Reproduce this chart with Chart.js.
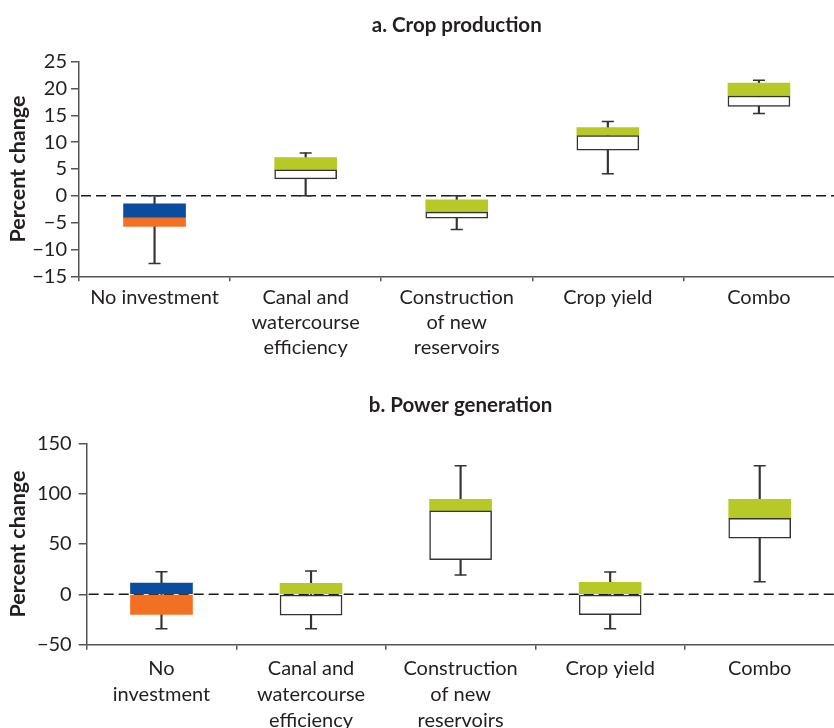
<!DOCTYPE html>
<html>
<head>
<meta charset="utf-8">
<script src="https://cdn.jsdelivr.net/npm/chart.js@4.4.1/dist/chart.umd.min.js"></script>
<style>
  html, body { margin: 0; padding: 0; background: #fff; overflow: hidden; width: 834px; height: 728px; }
  .wrap { position: absolute; left: 0; width: 842px; }
  #w1 { top: 0; height: 372px; }
  #w2 { top: 372px; height: 356px; }
</style>
</head>
<body>
<div class="wrap" id="w1"><canvas id="c1"></canvas></div>
<div class="wrap" id="w2"><canvas id="c2"></canvas></div>
<script>
// ---------- data ----------
const cropCategories = ["No investment", ["Canal and", "watercourse", "efficiency"], ["Construction", "of new", "reservoirs"], "Crop yield", "Combo"];
const powerCategories = [["No", "investment"], ["Canal and", "watercourse", "efficiency"], ["Construction", "of new", "reservoirs"], "Crop yield", "Combo"];

const cropWhiskerLow  = [-12.6, 0, -6.3, 4.1, 15.35];
const cropWhiskerHigh = [0, 8.0, 0, 13.85, 21.55];
const cropUpperTop    = [-1.5, 7.15, -0.75, 12.7, 21.0];
const cropMid         = [-4.1, 4.85, -3.05, 11.25, 18.6];
const cropLowerBottom = [-5.7, 3.17, -4.17, 8.5, 16.65];

const powerWhiskerLow  = [-34.2, -34.2, 19.2, -34.2, 12.5];
const powerWhiskerHigh = [22.4, 23.1, 127.7, 22.1, 127.7];
const powerUpperTop    = [11.2, 10.9, 94.3, 11.9, 94.3];
const powerMid         = [0, 0, 83, 0, 75.5];
const powerLowerBottom = [-19.9, -20.6, 34.4, -20.2, 55.9];

const cropTicks = { min: -15, max: 25, step: 5 };
const powerTicks = { min: -50, max: 150, step: 50 };

// ---------- styles ----------
const FONT = "Lato, 'Liberation Sans', 'Open Sans', sans-serif";
const TEXT = '#231f20';
const AXIS = '#555555';
const INK = '#333333';
const BLUE = '#0a4c9e';
const ORANGE = '#f37022';
const GREEN = '#b7c927';

const zeroLine = {
  id: 'zeroLine',
  beforeDatasetsDraw(chart) {
    const y = chart.scales.y.getPixelForValue(0);
    const ctx = chart.ctx;
    ctx.save();
    ctx.strokeStyle = '#1a1a1a';
    ctx.lineWidth = 1.5;
    ctx.setLineDash([10, 5]);
    ctx.beginPath();
    ctx.moveTo(chart.chartArea.left + 2, y);
    ctx.lineTo(chart.chartArea.right, y);
    ctx.stroke();
    ctx.restore();
  }
};

const pair = (a, b) => a.map((v, i) => [v, b[i]]);

function makeChart(canvasId, cfg) {
  const datasets = [
    { type: 'line', data: cfg.whiskerHigh, showLine: false, pointStyle: 'line', pointRadius: 6, pointHoverRadius: 6,
      borderColor: INK, borderWidth: 1.5, order: 0 },
    { type: 'line', data: cfg.whiskerLow, showLine: false, pointStyle: 'line', pointRadius: 6, pointHoverRadius: 6,
      borderColor: INK, borderWidth: 1.5, order: 0 },
    { type: 'bar', data: pair(cfg.lowerBottom, cfg.mid), grouped: false, barThickness: 62,
      backgroundColor: (c) => c.dataIndex === 0 ? ORANGE : '#ffffff',
      borderColor: INK, borderWidth: (c) => c.dataIndex === 0 ? 0 : 1.5, borderSkipped: false, order: 1 },
    { type: 'bar', data: pair(cfg.mid, cfg.upperTop), grouped: false, barThickness: 62,
      backgroundColor: (c) => c.dataIndex === 0 ? BLUE : GREEN, borderWidth: 0, order: 2 },
    { type: 'bar', data: pair(cfg.whiskerLow, cfg.whiskerHigh), grouped: false, barThickness: 1.5,
      backgroundColor: INK, borderWidth: 0, order: 3 }
  ];
  return new Chart(document.getElementById(canvasId), {
    type: 'bar',
    data: { labels: cfg.labels, datasets },
    plugins: [zeroLine],
    options: {
      responsive: true,
      maintainAspectRatio: false,
      devicePixelRatio: 1,
      animation: false,
      layout: { padding: 0 },
      plugins: {
        legend: { display: false },
        tooltip: { enabled: false },
        title: {
          display: true, text: cfg.title, fullSize: false, color: TEXT,
          font: { family: FONT, size: 20.5, weight: 'bold' },
          padding: cfg.titlePadding
        }
      },
      scales: {
        x: {
          type: 'category',
          afterFit: (s) => { s.height = cfg.xHeight; },
          grid: { offset: true, drawOnChartArea: false, drawTicks: true, tickLength: 5, color: AXIS, lineWidth: 1.5 },
          border: { display: true, color: AXIS, width: 1.5 },
          ticks: { color: TEXT, font: { family: FONT, size: 20, lineHeight: cfg.xLineHeight }, padding: cfg.xPad,
                   maxRotation: 0, autoSkip: false }
        },
        y: {
          min: cfg.ticks.min, max: cfg.ticks.max,
          afterFit: (s) => { s.width = cfg.yWidth; },
          grid: { drawOnChartArea: false, drawTicks: true, tickLength: 8, color: AXIS, lineWidth: 1.5 },
          border: { display: true, color: AXIS, width: 1.5 },
          ticks: {
            stepSize: cfg.ticks.step, color: TEXT, padding: cfg.yPad, autoSkip: false,
            font: { family: FONT, size: 20 },
            callback: (v) => v < 0 ? '\u2212' + Math.abs(v) : String(v)
          },
          title: { display: true, text: 'Percent change', color: TEXT,
                   font: { family: FONT, size: 21.5, weight: 'bold' }, padding: { top: 5, bottom: 0 } }
        }
      }
    }
  });
}

makeChart('c1', {
  labels: cropCategories, title: 'a. Crop production',
  whiskerLow: cropWhiskerLow, whiskerHigh: cropWhiskerHigh,
  upperTop: cropUpperTop, mid: cropMid, lowerBottom: cropLowerBottom,
  ticks: cropTicks, titlePadding: { top: 12.7, bottom: 24.4 },
  xHeight: 95.7, xLineHeight: 1.25, xPad: 4, yWidth: 79, yPad: 4
});

makeChart('c2', {
  labels: powerCategories, title: 'b. Power generation',
  whiskerLow: powerWhiskerLow, whiskerHigh: powerWhiskerHigh,
  upperTop: powerUpperTop, mid: powerMid, lowerBottom: powerLowerBottom,
  ticks: powerTicks, titlePadding: { top: 20.7, bottom: 26.0 },
  xHeight: 83.3, xLineHeight: 1.3, xPad: 6, yWidth: 86.7, yPad: 7
});
</script>
</body>
</html>
